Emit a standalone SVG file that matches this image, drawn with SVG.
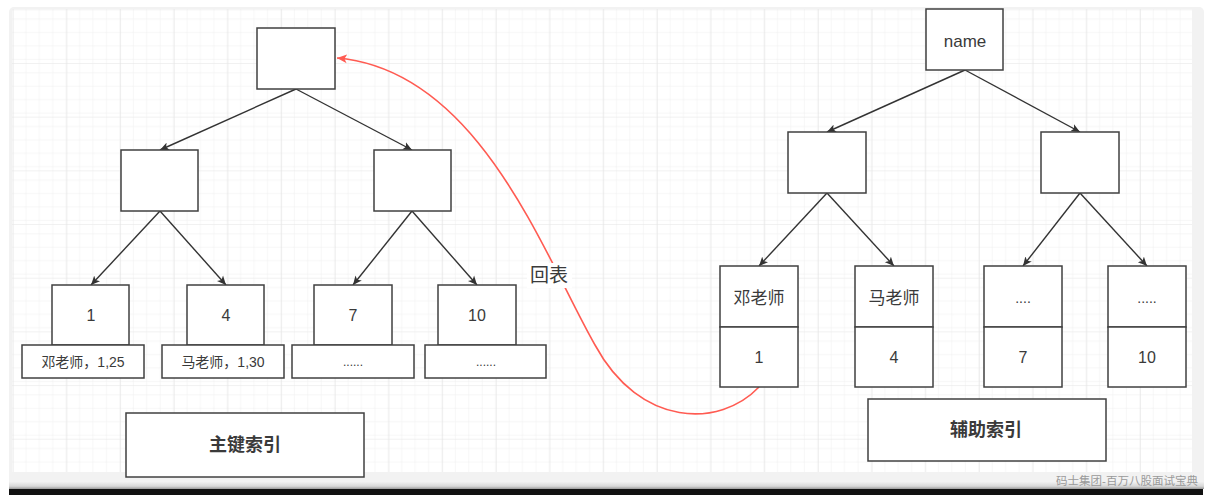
<svg xmlns="http://www.w3.org/2000/svg" width="1208" height="500" viewBox="0 0 1208 500">
<defs>
<pattern id="minor" patternUnits="userSpaceOnUse" x="12.7" y="9.3" width="13.42" height="13.42">
<path d="M0,0 H13.42 M0,0 V13.42" fill="none" stroke="#eeeeee" stroke-width="1"/>
</pattern>
<pattern id="major" patternUnits="userSpaceOnUse" x="12.7" y="9.3" width="53.68" height="53.68">
<rect width="53.68" height="53.68" fill="url(#minor)"/>
<path d="M0,0 H53.68 M0,0 V53.68" fill="none" stroke="#e4e4e4" stroke-width="1.2"/>
</pattern>
<marker id="ah" viewBox="0 0 10 10" refX="10" refY="5" markerWidth="9" markerHeight="9" markerUnits="userSpaceOnUse" orient="auto">
<path d="M0,0.5 L10,5 L0,9.5 L2.5,5 Z" fill="#333"/>
</marker>
<marker id="ahr" viewBox="0 0 10 10" refX="10" refY="5" markerWidth="10" markerHeight="10" markerUnits="userSpaceOnUse" orient="auto">
<path d="M0,0.5 L10,5 L0,9.5 L2.5,5 Z" fill="#ff5b52"/>
</marker>
<linearGradient id="shadow" x1="0" y1="0" x2="0" y2="1">
<stop offset="0" stop-color="#f0f0f0"/>
<stop offset="0.6" stop-color="#d8d8d8"/>
<stop offset="1" stop-color="#9a9a9a"/>
</linearGradient>
</defs>
<style>
.box{fill:#fff;stroke:#404040;stroke-width:1.5}
.t{font-family:"Liberation Sans","Noto Sans CJK SC",sans-serif;fill:#3a3a3a;text-anchor:middle;dominant-baseline:central}
.n{font-size:16px}
.c{font-size:17px}
.s{font-size:14px}
.b{font-size:18px;font-weight:bold}
.edge{fill:none;stroke:#333;stroke-width:1.4;marker-end:url(#ah)}
</style>
<rect width="1208" height="500" fill="#fff"/>
<rect x="9" y="7" width="1195" height="484" rx="5" fill="#f2f2f2"/>
<rect x="9" y="482" width="1195" height="7" fill="url(#shadow)"/>
<rect x="9" y="489" width="1194" height="6" fill="#111"/>
<rect x="12" y="9" width="1180" height="463" fill="#fff"/>
<rect x="12" y="9" width="1180" height="463" fill="url(#major)"/>
<text class="t" x="1127" y="481" style="font-size:11.5px;fill:#9a9a9a">码士集团-百万八股面试宝典</text>

<g id="connectors">
<path class="edge" d="M296,89 L160,150"/>
<path class="edge" d="M296,89 L412,150"/>
<path class="edge" d="M160,211 L91,285"/>
<path class="edge" d="M160,211 L226,285"/>
<path class="edge" d="M412,211 L353,285"/>
<path class="edge" d="M412,211 L477,285"/>
<path class="edge" d="M965,70 L827,132"/>
<path class="edge" d="M965,70 L1080,132"/>
<path class="edge" d="M827,193 L759,266"/>
<path class="edge" d="M827,193 L894,266"/>
<path class="edge" d="M1080,193 L1023,266"/>
<path class="edge" d="M1080,193 L1147,266"/>
<path d="M759,387 C720,428 640,428 595,345 C545,258 480,70 337,58" fill="none" stroke="#ff5b52" stroke-width="1.6" marker-end="url(#ahr)"/>
<rect x="527" y="263" width="45" height="25" fill="#fff"/>
<text class="t" x="549" y="275" style="font-size:19px">回表</text>
</g>

<g id="pk-root"><rect class="box" x="257" y="28" width="78" height="61"/></g>
<g id="pk-l"><rect class="box" x="121" y="150" width="77" height="61"/></g>
<g id="pk-r"><rect class="box" x="374" y="150" width="77" height="61"/></g>

<g id="pk-leaf1">
<rect class="box" x="52" y="285" width="77" height="60"/>
<text class="t n" x="91" y="315">1</text>
<rect class="box" x="22" y="345" width="122" height="33"/>
<text class="t s" x="83" y="362">邓老师，1,25</text>
</g>
<g id="pk-leaf4">
<rect class="box" x="187" y="285" width="77" height="60"/>
<text class="t n" x="226" y="315">4</text>
<rect class="box" x="162" y="345" width="122" height="33"/>
<text class="t s" x="223" y="362">马老师，1,30</text>
</g>
<g id="pk-leaf7">
<rect class="box" x="314" y="285" width="78" height="60"/>
<text class="t n" x="353" y="315">7</text>
<rect class="box" x="292" y="345" width="122" height="33"/>
<text class="t" x="353" y="362" style="font-size:12px">......</text>
</g>
<g id="pk-leaf10">
<rect class="box" x="438" y="285" width="78" height="60"/>
<text class="t n" x="477" y="315">10</text>
<rect class="box" x="425" y="345" width="121" height="33"/>
<text class="t" x="486" y="362" style="font-size:12px">......</text>
</g>
<g id="pk-label">
<rect class="box" x="126" y="413" width="238" height="64"/>
<text class="t b" x="245" y="445">主键索引</text>
</g>

<g id="sk-root">
<rect class="box" x="926" y="9" width="77" height="61"/>
<text class="t c" x="965" y="41">name</text>
</g>
<g id="sk-l"><rect class="box" x="788" y="132" width="78" height="61"/></g>
<g id="sk-r"><rect class="box" x="1041" y="132" width="78" height="61"/></g>

<g id="sk-leaf1">
<rect class="box" x="720" y="266" width="78" height="61"/>
<text class="t c" x="759" y="298">邓老师</text>
<rect class="box" x="720" y="327" width="78" height="60"/>
<text class="t n" x="759" y="357">1</text>
</g>
<g id="sk-leaf2">
<rect class="box" x="855" y="266" width="78" height="61"/>
<text class="t c" x="894" y="298">马老师</text>
<rect class="box" x="855" y="327" width="78" height="60"/>
<text class="t n" x="894" y="357">4</text>
</g>
<g id="sk-leaf3">
<rect class="box" x="984" y="266" width="78" height="61"/>
<text class="t s" x="1023" y="298">....</text>
<rect class="box" x="984" y="327" width="78" height="60"/>
<text class="t n" x="1023" y="357">7</text>
</g>
<g id="sk-leaf4">
<rect class="box" x="1108" y="266" width="78" height="61"/>
<text class="t s" x="1147" y="298">.....</text>
<rect class="box" x="1108" y="327" width="78" height="60"/>
<text class="t n" x="1147" y="357">10</text>
</g>
<g id="sk-label">
<rect class="box" x="868" y="399" width="238" height="62"/>
<text class="t b" x="986" y="430">辅助索引</text>
</g>
</svg>
